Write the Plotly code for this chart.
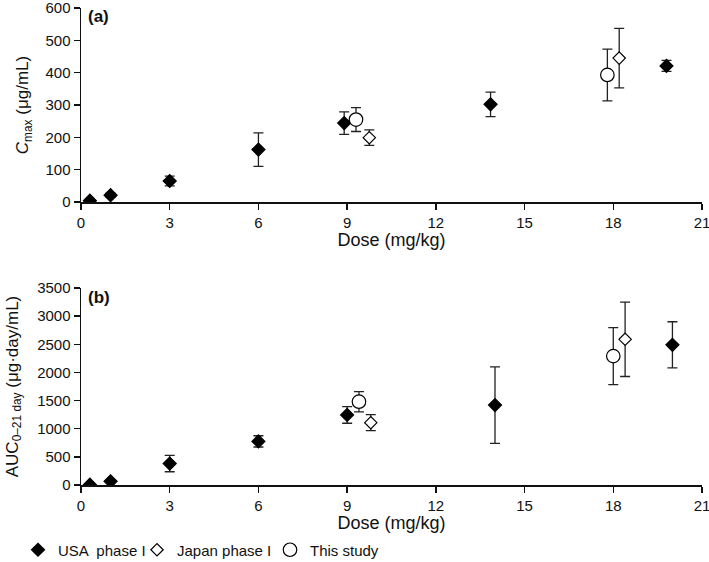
import plotly.graph_objects as go

# ---- Panel (a): Cmax (ug/mL) ----
usa_a_dose = [0.3, 1.0, 3.0, 6.0, 8.9, 13.85, 19.8]
usa_a_val = [4, 21, 65, 162, 244, 302, 421]
usa_a_err = [4, 6, 15, 52, 35, 38, 17]

jpn_a_dose = [9.75, 18.2]
jpn_a_val = [199, 445]
jpn_a_err = [24, 92]

this_a_dose = [9.3, 17.8]
this_a_val = [255, 393]
this_a_err = [37, 80]

# ---- Panel (b): AUC0-21day (ug.day/mL) ----
usa_b_dose = [0.3, 1.0, 3.0, 6.0, 9.0, 14.0, 20.0]
usa_b_val = [5, 65, 380, 775, 1245, 1420, 2490]
usa_b_err = [0, 0, 145, 100, 148, 680, 410]

jpn_b_dose = [9.8, 18.4]
jpn_b_val = [1107, 2588]
jpn_b_err = [142, 660]

this_b_dose = [9.4, 18.0]
this_b_val = [1480, 2290]
this_b_err = [180, 505]

x_ticks = [0, 3, 6, 9, 12, 15, 18, 21]
ya_ticks = [0, 100, 200, 300, 400, 500, 600]
yb_ticks = [0, 500, 1000, 1500, 2000, 2500, 3000, 3500]

FONT = "Liberation Sans, Arial, sans-serif"
INK = "#111111"
ERR = dict(type="data", thickness=1.3, width=5, color="#222222")

fig = go.Figure()

def add(series_x, series_y, series_e, name, symbol, size, fill, xa, ya, show, lw):
    fig.add_trace(go.Scatter(
        x=series_x, y=series_y, mode="markers", name=name,
        xaxis=xa, yaxis=ya, showlegend=show, legendgroup=name, legendwidth=lw,
        error_y=dict(array=series_e, **ERR),
        marker=dict(symbol=symbol, size=size, color=fill,
                    line=dict(color="#000000", width=1.2)),
    ))

add(usa_a_dose, usa_a_val, usa_a_err, "USA  phase I", "diamond", 10, "#000000", "x", "y", True, 74)
add(jpn_a_dose, jpn_a_val, jpn_a_err, "Japan phase I", "diamond", 9.5, "#ffffff", "x", "y", True, 88)
add(this_a_dose, this_a_val, this_a_err, "This study", "circle", 13.5, "#ffffff", "x", "y", True, 80)
add(usa_b_dose, usa_b_val, usa_b_err, "USA  phase I", "diamond", 10, "#000000", "x2", "y2", False, 74)
add(jpn_b_dose, jpn_b_val, jpn_b_err, "Japan phase I", "diamond", 9.5, "#ffffff", "x2", "y2", False, 88)
add(this_b_dose, this_b_val, this_b_err, "This study", "circle", 13.5, "#ffffff", "x2", "y2", False, 80)

xdom = [81 / 709, 702 / 709]
common_x = dict(range=[0, 21.0001], tickvals=x_ticks, showline=True, linecolor=INK, linewidth=1.5,
                ticks="outside", ticklen=6, tickwidth=1.5, tickcolor=INK, showgrid=False,
                zeroline=False, tickfont=dict(size=15, color=INK, family=FONT),
                ticklabeloverflow="allow", automargin=False,
                domain=xdom, fixedrange=True)
common_y = dict(showline=True, linecolor=INK, linewidth=1.5, ticks="outside", ticklen=6,
                tickwidth=1.5, tickcolor=INK, showgrid=False, zeroline=False,
                tickfont=dict(size=15, color=INK, family=FONT), fixedrange=True,
                ticklabeloverflow="allow", automargin=False)

fig.update_layout(
    width=709, height=562,
    margin=dict(l=0, r=0, t=0, b=0, autoexpand=False),
    paper_bgcolor="white", plot_bgcolor="white",
    font=dict(family=FONT, color=INK, size=15),
    xaxis=dict(anchor="y", title=dict(text="Dose (mg/kg)", font=dict(size=18), standoff=2), **common_x),
    xaxis2=dict(anchor="y2", title=dict(text="Dose (mg/kg)", font=dict(size=18), standoff=2), **common_x),
    yaxis=dict(anchor="x", domain=[360 / 562, 554 / 562], range=[0, 600], tickvals=ya_ticks,
               title=dict(text="<i>C</i><sub>max</sub> (μg/mL)", font=dict(size=17), standoff=12),
               **common_y),
    yaxis2=dict(anchor="x2", domain=[77 / 562, 274 / 562], range=[0, 3500], tickvals=yb_ticks,
                title=dict(text="AUC<sub>0–21 day</sub> (μg·day/mL)", font=dict(size=17), standoff=14),
                **common_y),
    legend=dict(orientation="h", x=18 / 709, xanchor="left", y=12 / 562, yanchor="middle",
                font=dict(size=15, family=FONT, color=INK), itemwidth=30,
                bgcolor="rgba(0,0,0,0)", traceorder="normal"),
    annotations=[
        dict(text="<b>(a)</b>", x=86 / 709, y=557 / 562, xref="paper", yref="paper",
             xanchor="left", yanchor="top", showarrow=False, font=dict(size=17, color=INK)),
        dict(text="<b>(b)</b>", x=86 / 709, y=276 / 562, xref="paper", yref="paper",
             xanchor="left", yanchor="top", showarrow=False, font=dict(size=17, color=INK)),
    ],
)

fig.write_html("out.html", config={"displayModeBar": False, "staticPlot": True},
               post_script="document.body.style.margin='0';document.body.style.overflow='hidden';")
